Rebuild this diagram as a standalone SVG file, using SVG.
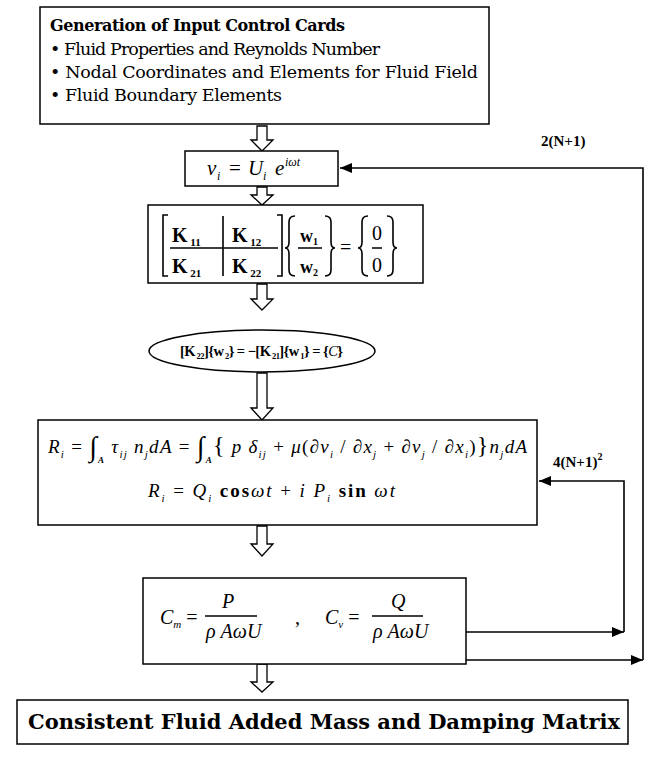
<svg xmlns="http://www.w3.org/2000/svg" width="654" height="757" viewBox="0 0 654 757">
<style>
.box{fill:#fff;stroke:#000;stroke-width:1.5}
.ha{fill:#fff;stroke:#000;stroke-width:1.3}
.ln{fill:none;stroke:#000;stroke-width:1.6}
.t{font-family:"DejaVu Serif","Liberation Serif",serif;font-size:17.5px;fill:#000}
.tb{font-family:"DejaVu Serif","Liberation Serif",serif;font-size:16px;font-weight:bold;fill:#000}
.m{font-family:"Liberation Serif",serif;font-size:20px;fill:#000}
.mi{font-style:italic}
.mb{font-weight:bold}
.lab{font-family:"Liberation Serif",serif;font-size:15px;font-weight:bold;fill:#000}
</style>
<defs>
<marker id="ah" viewBox="0 0 12 10" refX="12" refY="5" markerWidth="12" markerHeight="10" markerUnits="userSpaceOnUse" orient="auto">
<path d="M0,0 L12,5 L0,10 Z" fill="#000"/>
</marker>
</defs>
<rect width="654" height="757" fill="#fff"/>

<g id="connectors">
<polygon class="ha" points="257,126 267,126 267,140 273,140 262,151 251,140 257,140"/>
<polygon class="ha" points="257,187 267,187 267,195 273,195 262,205 251,195 257,195"/>
<polygon class="ha" points="257,284 267,284 267,299 273,299 262,310 251,299 257,299"/>
<polygon class="ha" points="257,373 267,373 267,408 273,408 262,420 251,408 257,408"/>
<polygon class="ha" points="257,526 267,526 267,544 273,544 262,556 251,544 257,544"/>
<polygon class="ha" points="257,664 267,664 267,682 273,682 262,692 251,682 257,682"/>
<polyline class="ln" points="466,632 624,632" marker-end="url(#ah)"/>
<polyline class="ln" points="624,632 624,481 539,481" marker-end="url(#ah)"/>
<polyline class="ln" points="466,660 643,660" marker-end="url(#ah)"/>
<polyline class="ln" points="643,660 643,168 340,168" marker-end="url(#ah)"/>
<text class="lab" x="541" y="146">2(N+1)</text>
<text class="lab" x="553" y="467">4(N+1)<tspan style="font-size:10px" dy="-7">2</tspan></text>
</g>

<g id="input-cards">
<rect class="box" x="40" y="7" width="449" height="117"/>
<text class="tb" x="50" y="31" textLength="295">Generation of Input Control Cards</text>
<text class="t" x="50" y="55" textLength="330">• Fluid Properties and Reynolds Number</text>
<text class="t" x="50" y="78" textLength="428">• Nodal Coordinates and Elements for Fluid Field</text>
<text class="t" x="50" y="101" textLength="232">• Fluid Boundary Elements</text>
</g>

<g id="velocity">
<rect class="box" x="185" y="151" width="153" height="35"/>
<text class="m mi" x="207" y="175" style="font-size:21px">v</text>
<text class="m mi" x="217" y="180" style="font-size:12px">i</text>
<text class="m" x="229" y="175" style="font-size:21px">=</text>
<text class="m mi" x="248" y="175" style="font-size:21px">U</text>
<text class="m mi" x="263" y="180" style="font-size:12px">i</text>
<text class="m mi" x="275" y="175" style="font-size:21px">e</text>
<text class="m mi" x="285" y="166" style="font-size:12px">iωt</text>
</g>

<g id="matrix">
<rect class="box" x="148" y="205" width="275" height="78"/>
<path class="ln" d="M168,215 H163 V276 H168 M277,215 H282 V276 H277" stroke-width="1.3"/>
<path class="ln" d="M223,216 V276 M170,248 H278 M298,248 H322 M372,248 H382" stroke-width="1.2"/>
<text class="m mb" x="172" y="242">K<tspan style="font-size:11px" dy="4"> 11</tspan></text>
<text class="m mb" x="232" y="242">K<tspan style="font-size:11px" dy="4"> 12</tspan></text>
<text class="m mb" x="172" y="273">K<tspan style="font-size:11px" dy="4"> 21</tspan></text>
<text class="m mb" x="232" y="273">K<tspan style="font-size:11px" dy="4"> 22</tspan></text>
<path class="ln" stroke-width="1.2" d="M295,216 Q289,216 289,222 V242 Q289,248 285,248 Q289,248 289,254 V270 Q289,276 295,276 M325,216 Q331,216 331,222 V242 Q331,248 335,248 Q331,248 331,254 V270 Q331,276 325,276"/>
<text class="m mb" x="300" y="242" style="font-size:18px">w<tspan style="font-size:10px" dy="3">1</tspan></text>
<text class="m mb" x="300" y="273" style="font-size:18px">w<tspan style="font-size:10px" dy="3">2</tspan></text>
<text class="m" x="340" y="254">=</text>
<path class="ln" stroke-width="1.2" d="M368,216 Q362,216 362,222 V242 Q362,248 358,248 Q362,248 362,254 V270 Q362,276 368,276 M387,216 Q393,216 393,222 V242 Q393,248 397,248 Q393,248 393,254 V270 Q393,276 387,276"/>
<text class="m" x="372" y="240">0</text>
<text class="m" x="372" y="272">0</text>
</g>

<g id="boundary-load">
<ellipse class="box" cx="262" cy="351" rx="113" ry="21"/>
<text class="m mb" x="180" y="356" style="font-size:14.5px" textLength="163">[K<tspan style="font-size:8.5px" dy="3"> 22</tspan><tspan dy="-3">]{w</tspan><tspan style="font-size:8.5px" dy="3"> 2</tspan><tspan dy="-3">} = −[K</tspan><tspan style="font-size:8.5px" dy="3"> 21</tspan><tspan dy="-3">]{w</tspan><tspan style="font-size:8.5px" dy="3"> 1</tspan><tspan dy="-3">} = {</tspan><tspan class="mi" style="font-weight:normal">C</tspan><tspan>}</tspan></text>
</g>

<g id="force">
<rect class="box" x="38" y="420" width="499" height="105"/>
<text class="m" x="48" y="453" style="font-size:19px" textLength="479"><tspan class="mi">R</tspan><tspan class="mi" style="font-size:11px" dy="5">i</tspan><tspan dy="-5"> = </tspan><tspan style="font-size:28px" dy="3">∫</tspan><tspan class="mi mb" style="font-size:9px" dy="7">A</tspan><tspan class="mi" dy="-10"> τ</tspan><tspan class="mi" style="font-size:11px" dy="5">ij</tspan><tspan class="mi" dy="-5"> n</tspan><tspan class="mi" style="font-size:11px" dy="5">j</tspan><tspan class="mi" dy="-5">dA</tspan><tspan> = </tspan><tspan style="font-size:28px" dy="3">∫</tspan><tspan class="mi mb" style="font-size:9px" dy="7">A</tspan><tspan style="font-size:24px" dy="-10">{</tspan><tspan class="mi"> p δ</tspan><tspan class="mi" style="font-size:11px" dy="5">ij</tspan><tspan dy="-5"> + </tspan><tspan class="mi">μ</tspan><tspan>(∂</tspan><tspan class="mi">v</tspan><tspan class="mi" style="font-size:11px" dy="5">i</tspan><tspan dy="-5"> / ∂</tspan><tspan class="mi">x</tspan><tspan class="mi" style="font-size:11px" dy="5">j</tspan><tspan dy="-5"> + ∂</tspan><tspan class="mi">v</tspan><tspan class="mi" style="font-size:11px" dy="5">j</tspan><tspan dy="-5"> / ∂</tspan><tspan class="mi">x</tspan><tspan class="mi" style="font-size:11px" dy="5">i</tspan><tspan dy="-5">)</tspan><tspan style="font-size:24px">}</tspan><tspan class="mi">n</tspan><tspan class="mi" style="font-size:11px" dy="5">j</tspan><tspan class="mi" dy="-5">dA</tspan></text>
<text class="m" x="148" y="497" style="font-size:19px" textLength="247"><tspan class="mi">R</tspan><tspan class="mi" style="font-size:11px" dy="5">i</tspan><tspan dy="-5"> = </tspan><tspan class="mi">Q</tspan><tspan class="mi" style="font-size:11px" dy="5">i</tspan><tspan class="mb" dy="-5"> cos</tspan><tspan class="mi">ωt</tspan><tspan> + </tspan><tspan class="mi">i P</tspan><tspan class="mi" style="font-size:11px" dy="5">i</tspan><tspan class="mb" dy="-5"> sin</tspan><tspan class="mi"> ωt</tspan></text>
</g>

<g id="coefficients">
<rect class="box" x="143" y="578" width="323" height="86"/>
<text class="m" x="160" y="624"><tspan class="mi">C</tspan><tspan class="mi" style="font-size:11px" dy="4">m</tspan><tspan dy="-4"> =</tspan></text>
<text class="m mi" x="222" y="608">P</text>
<path class="ln" stroke-width="1.2" d="M205,616 H257 M372,616 H423"/>
<text class="m mi" x="206" y="638">ρ AωU</text>
<text class="m" x="295" y="624">,</text>
<text class="m" x="325" y="624"><tspan class="mi">C</tspan><tspan class="mi" style="font-size:11px" dy="4">v</tspan><tspan dy="-4"> =</tspan></text>
<text class="m mi" x="391" y="608">Q</text>
<text class="m mi" x="373" y="638">ρ AωU</text>
</g>

<g id="result">
<rect class="box" x="17" y="700" width="611" height="44"/>
<text class="tb" x="28" y="729" style="font-size:21px" textLength="592">Consistent Fluid Added Mass and Damping Matrix</text>
</g>
</svg>
